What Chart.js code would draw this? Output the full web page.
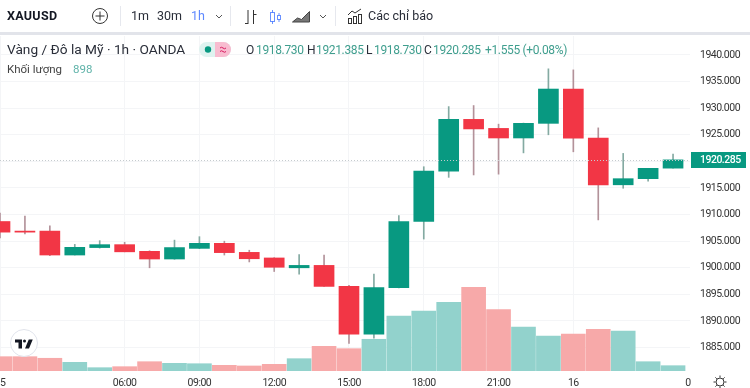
<!DOCTYPE html>
<html>
<head>
<meta charset="utf-8">
<title>XAUUSD</title>
<script src="https://cdn.jsdelivr.net/npm/chart.js@4"></script>
<style>
	html, body { margin: 0; padding: 0; background: #fff; }
	#page { position: relative; width: 750px; height: 388px; overflow: hidden; font-family: Roboto, sans-serif; color: #131722; }
	#page canvas { position: absolute; left: 0; top: 0; }
	.t { position: absolute; white-space: nowrap; line-height: 16px; }
	.tb { top: 8px; font-size: 12.5px; color: #2a2e39; }
	.leg { top: 42px; font-size: 12px; letter-spacing: -0.35px; color: #2a2e39; }
	.up { color: #3f9e8e; }
	.sep { position: absolute; top: 6px; width: 1px; height: 20px; background: #e6e8ee; }
	#band { position: absolute; left: 0; top: 32px; width: 750px; height: 3px; background: #e2e4ea; }
	svg { position: absolute; overflow: visible; }
</style>
</head>
<body>
<div id="page">
	<canvas id="chart" width="750" height="388"></canvas>

	<div class="t" style="left:7px;top:8px;font-size:12.5px;font-weight:700;letter-spacing:0.3px;">XAUUSD</div>
	<svg style="left:92px;top:8px" width="16" height="16" fill="none" stroke="#333" stroke-width="1"><circle cx="8" cy="8" r="7.5"/><path d="M8 3.5v9M3.5 8h9"/></svg>
	<div class="sep" style="left:120px"></div>
	<div class="t tb" style="left:131px">1m</div>
	<div class="t tb" style="left:157px">30m</div>
	<div class="t tb" style="left:191px;color:#2962ff;opacity:.75">1h</div>
	<svg style="left:215px;top:14px" width="8" height="5" fill="none" stroke="#555"><path d="M1 1l3 3 3-3"/></svg>
	<div class="sep" style="left:230px"></div>
	<svg style="left:244px;top:9px" width="13" height="16" fill="none" stroke="#333"><path d="M4 1v14M1 14.500h3M9.500 1v14M9.500 5.500h3"/></svg>
	<svg style="left:269px;top:9px" width="13" height="16" fill="none" stroke="#2962ff" stroke-opacity=".7"><path d="M3.500 1v14M10 4v9"/><rect x="1.500" y="3.500" width="4" height="9" fill="#fff"/><rect x="8.500" y="6.500" width="3" height="4" fill="#fff"/></svg>
	<svg style="left:292px;top:9px" width="18" height="14" fill="#777" stroke="#444" stroke-width="1"><path d="M0.500 13l5-4 4 1.500 8-8V13z"/></svg>
	<svg style="left:319px;top:14px" width="8" height="5" fill="none" stroke="#555"><path d="M1 1l3 3 3-3"/></svg>
	<div class="sep" style="left:335px"></div>
	<svg style="left:347px;top:8px" width="16" height="16" fill="none" stroke="#333"><path d="M1 7l4-4 3 2 6-4"/><rect x="1.500" y="10.500" width="3" height="5"/><rect x="6.500" y="8.500" width="3" height="7"/><rect x="11.500" y="6.500" width="3" height="9"/></svg>
	<div class="t tb" style="left:368px">Các chỉ báo</div>
	<div id="band"></div>

	<div class="t" style="left:7px;top:41px;font-size:13.7px;color:#2a2e39">Vàng / Đô la Mỹ · 1h · OANDA</div>
	<svg style="left:199px;top:42px" width="34" height="15"><rect x="0" y="0" width="32" height="15" rx="7.500" fill="#dff3f0"/><path d="M16 0h8.500a7.500 7.500 0 0 1 0 15H16z" fill="#f8bcd0"/><circle cx="9" cy="7.500" r="3.200" fill="#089981"/><path d="M21 6q1.500-1.500 3 0t3 0M21 9.500q1.500-1.500 3 0t3 0" fill="none" stroke="#d81b60"/></svg>
	<div class="t leg" style="left:246px">O</div>
	<div class="t leg up" style="left:256px">1918.730</div>
	<div class="t leg" style="left:307px">H</div>
	<div class="t leg up" style="left:316px">1921.385</div>
	<div class="t leg" style="left:366px">L</div>
	<div class="t leg up" style="left:374px">1918.730</div>
	<div class="t leg" style="left:424px">C</div>
	<div class="t leg up" style="left:433px">1920.285</div>
	<div class="t leg up" style="left:485px">+1.555 (+0.08%)</div>
	<div class="t" style="left:7px;top:61px;font-size:11.500px;color:#444">Khối lượng</div>
	<div class="t" style="left:73px;top:61px;font-size:11.500px;color:#5fb3a9">898</div>

	<svg style="left:10px;top:329px" width="28" height="28"><circle cx="14" cy="14" r="13.500" fill="#fff" stroke="#e0e3eb"/><g transform="translate(5 9.500) scale(0.5)"><path fill="#131722" d="M14 2H0v6h7v12h7V2zM28 20h-8l7.500-18h8L28 20zM22 5a3 3 0 1 1-6 0 3 3 0 0 1 6 0z"/></g></svg>
	<svg style="left:713px;top:375px" width="14" height="14" fill="none" stroke="#333"><circle cx="7" cy="7" r="4"/><path d="M7 .5v2M7 11.500v2M.5 7h2M11.500 7h2M2.400 2.400l1.400 1.400M10.200 10.200l1.400 1.400M2.400 11.600l1.400-1.400M10.200 3.800l1.400-1.400"/></svg>
</div>

<script>
// hourly candles
var candleOpen = [1908.7, 1906.9, 1906.9, 1902.4, 1903.8, 1904.35, 1903.1, 1901.65, 1903.65, 1904.6, 1902.9, 1901.85, 1900.0, 1900.45, 1896.5, 1887.5, 1896.25, 1908.7, 1918.15, 1927.9, 1926.2, 1924.4, 1927.15, 1933.6, 1924.4, 1915.6, 1916.75, 1918.73];
var candleHigh = [1910.3, 1909.7, 1907.9, 1904.4, 1905.1, 1904.8, 1903.2, 1905.2, 1905.85, 1905.0, 1903.3, 1901.9, 1902.5, 1902.4, 1896.7, 1898.8, 1909.8, 1919.0, 1930.3, 1930.5, 1927.0, 1927.2, 1937.4, 1937.2, 1926.3, 1921.5, 1918.7, 1921.385];
var candleLow = [1905.6, 1906.35, 1902.3, 1902.4, 1903.7, 1903.0, 1900.0, 1901.6, 1903.6, 1902.4, 1901.1, 1899.3, 1898.8, 1896.5, 1885.8, 1886.75, 1896.2, 1905.4, 1917.0, 1917.45, 1917.6, 1921.6, 1925.0, 1921.8, 1909.0, 1914.95, 1916.3, 1918.73];
var candleClose = [1906.7, 1906.7, 1902.4, 1903.85, 1904.35, 1903.0, 1901.65, 1903.8, 1904.6, 1902.85, 1901.7, 1900.1, 1900.45, 1896.5, 1887.5, 1896.3, 1908.7, 1918.2, 1927.9, 1926.1, 1924.4, 1927.15, 1933.6, 1924.35, 1915.6, 1916.75, 1918.7, 1920.285];
var volumes = [2420, 2420, 2150, 1470, 560, 730, 1570, 1300, 1230, 960, 850, 1130, 2080, 4170, 3770, 5360, 9300, 10140, 11610, 14150, 10360, 7440, 5920, 6250, 7050, 6760, 1570, 898];

var priceTicks = [1885, 1890, 1895, 1900, 1905, 1910, 1915, 1920, 1925, 1930, 1935, 1940];
var timeTickIdx = [0, 5, 8, 11, 14, 17, 20, 23, 27.6];
var timeTickLabels = ['15', '06:00', '09:00', '12:00', '15:00', '18:00', '21:00', '16', '0'];

var UP = '#089981', DOWN = '#f23645';
var UP_WICK = '#84aaa2', DOWN_WICK = '#b3929a';
var UP_VOL = '#92d2cc', DOWN_VOL = '#f7a9a9';
var GRID = '#f4f5f7';

var lastClose = candleClose[candleClose.length - 1];

function isUp(i) {
	return candleClose[i] >= candleOpen[i];
}

// axis labels in the picture are narrower than Roboto
var tightTextPlugin = {
	id: 'tightText',
	beforeDraw: function(chart) {
		chart.ctx.letterSpacing = '-0.5px';
	}
};

// dotted line and tag for the last price
var lastPricePlugin = {
	id: 'lastPrice',
	afterDraw: function(chart) {
		var ctx = chart.ctx;
		var y = Math.round(chart.scales.y.getPixelForValue(lastClose));
		ctx.save();
		ctx.strokeStyle = '#c5cbce';
		ctx.setLineDash([1, 2]);
		ctx.beginPath();
		ctx.moveTo(0, y + 0.5);
		ctx.lineTo(chart.chartArea.right, y + 0.5);
		ctx.stroke();
		ctx.setLineDash([]);
		ctx.fillStyle = UP;
		ctx.fillRect(691, y - 8, 55, 16);
		ctx.fillStyle = '#fff';
		ctx.font = '500 10.5px Roboto, sans-serif';
		ctx.textAlign = 'left';
		ctx.textBaseline = 'middle';
		ctx.fillText(lastClose.toFixed(3), 700, y + 0.5);
		ctx.restore();
	}
};

new Chart(document.getElementById('chart'), {
	type: 'bar',
	plugins: [tightTextPlugin, lastPricePlugin],
	data: {
		datasets: [
			{
				label: 'body',
				order: 1,
				grouped: false,
				barThickness: 20,
				minBarLength: 1,
				yAxisID: 'y',
				data: candleOpen.map(function(o, i) {
					return { x: i, y: [Math.min(o, candleClose[i]), Math.max(o, candleClose[i])] };
				}),
				backgroundColor: candleOpen.map(function(o, i) { return isUp(i) ? UP : DOWN; })
			},
			{
				label: 'wick',
				order: 2,
				grouped: false,
				barThickness: 1,
				yAxisID: 'y',
				data: candleHigh.map(function(h, i) {
					return { x: i, y: [candleLow[i], h] };
				}),
				backgroundColor: candleOpen.map(function(o, i) { return isUp(i) ? UP_WICK : DOWN_WICK; })
			},
			{
				label: 'volume',
				order: 3,
				grouped: false,
				barThickness: 24,
				yAxisID: 'yVol',
				data: volumes.map(function(v, i) {
					return { x: i, y: v };
				}),
				backgroundColor: volumes.map(function(v, i) { return isUp(i) ? UP_VOL : DOWN_VOL; })
			}
		]
	},
	options: {
		responsive: false,
		animation: false,
		layout: { padding: { top: 36, left: 0, right: 0, bottom: 0 } },
		plugins: { legend: { display: false }, tooltip: { enabled: false } },
		scales: {
			x: {
				type: 'linear',
				offset: false,
				min: 0,
				max: 27.68,
				grid: {
					offset: false,
					drawTicks: false,
					color: function(c) {
						// no grid line under the clipped label at the right end
						return c.index === timeTickIdx.length - 1 ? 'transparent' : GRID;
					}
				},
				border: { display: false },
				afterBuildTicks: function(scale) {
					scale.ticks = timeTickIdx.map(function(v) { return { value: v }; });
				},
				afterFit: function(scale) {
					scale.height = 17;
					scale.paddingLeft = 0;
					scale.paddingRight = 0;
				},
				ticks: {
					autoSkip: false,
					maxRotation: 0,
					padding: 6,
					color: '#333',
					font: { family: 'Roboto, sans-serif', size: 10.5 },
					callback: function(value) {
						return timeTickLabels[timeTickIdx.indexOf(value)];
					}
				}
			},
			y: {
				position: 'right',
				min: 1880.6,
				max: 1943.57,
				grid: { color: GRID, drawTicks: false },
				border: { display: false },
				afterBuildTicks: function(scale) {
					scale.ticks = priceTicks.map(function(v) { return { value: v }; });
				},
				afterFit: function(scale) {
					scale.width = 60;
				},
				ticks: {
					padding: 10,
					color: '#333',
					font: { family: 'Roboto, sans-serif', size: 10.5 },
					callback: function(value) {
						return value.toFixed(3);
					}
				}
			},
			yVol: {
				display: false,
				min: 0,
				max: 56600
			}
		}
	}
});
</script>
</body>
</html>
